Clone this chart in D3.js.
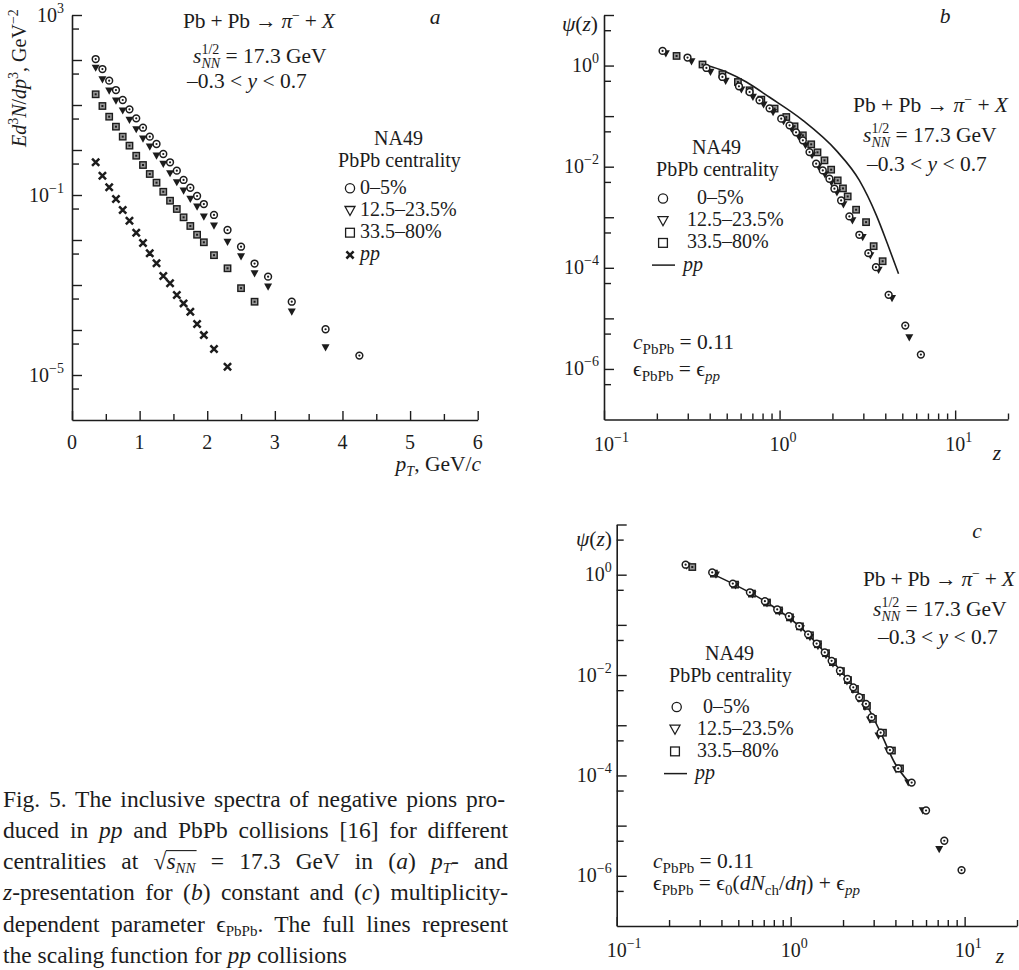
<!DOCTYPE html>
<html><head><meta charset="utf-8">
<script src="https://cdn.jsdelivr.net/npm/d3@7"></script>
<style>
body{margin:0;background:#fff}
svg{display:block}
text{font-family:"Liberation Serif","Times New Roman",serif;fill:#1c1c1c}
</style>
</head><body>
<svg id="fig" width="1019" height="970"></svg>
<script>
// ---------------- (a) invariant spectra vs pT ----------------
const ptPbPb = [0.35,0.45,0.55,0.65,0.75,0.85,0.95,1.05,1.15,1.25,1.35,1.45,1.55,1.65,1.75,1.85,1.95,2.1,2.3,2.5,2.7,2.9,3.25,3.75,4.25];
const specCentral = [105,63,34.7,21.5,12.9,8.0,5.06,3.13,1.98,1.36,0.815,0.533,0.347,0.216,0.145,0.095,0.063,0.036,0.0167,0.0071,0.0030,0.00153,4.25e-4,1.04e-4,2.7e-5];
const specMid = [67,37,20.8,12.5,7.5,4.64,2.88,1.78,1.18,0.746,0.489,0.303,0.191,0.125,0.0815,0.055,0.033,0.0208,0.0090,0.0043,0.0018,9.2e-4,2.55e-4,4.1e-5];
const specPeriph = [17.3,9.5,5.5,3.3,1.98,1.25,0.746,0.464,0.293,0.188,0.118,0.0747,0.0489,0.0319,0.0205,0.0131,0.0089,0.0046,0.00235,8.5e-4,4.25e-4];
const ptPP = [0.35,0.45,0.55,0.65,0.75,0.85,0.95,1.05,1.15,1.25,1.35,1.45,1.55,1.65,1.75,1.85,1.95,2.1,2.3];
const specPP = [0.533,0.268,0.148,0.0815,0.0464,0.0268,0.0145,0.0086,0.00506,0.00303,0.00158,0.00109,6.0e-4,3.9e-4,2.55e-4,1.36e-4,7.7e-5,3.8e-5,1.53e-5];

// ---------------- (b) z-scaling, constant epsilon ----------------
const zCentralB = [0.2156,0.299,0.383,0.4725,0.587,0.675,0.769,0.877,1.022,1.14,1.241,1.357,1.481,1.616,1.762,1.923,2.053,2.242,2.498,2.848,3.204,3.54,4.18,5.2,6.38];
const psiCentralB = [1.95,1.44,0.896,0.595,0.389,0.300,0.2056,0.1427,0.0892,0.0658,0.0478,0.0332,0.01946,0.01146,0.00845,0.00578,0.00367,0.00215,0.00104,4.5e-4,1.95e-4,1.03e-4,2.92e-5,7.2e-6,1.92e-6];
const zMidB = [0.225,0.315,0.404,0.493,0.606,0.705,0.811,0.918,1.054,1.17,1.282,1.405,1.53,1.666,1.814,1.975,2.122,2.31,2.6,2.974,3.29,3.665,4.37,5.48];
const psiMidB = [1.73,1.2,0.747,0.496,0.335,0.239,0.169,0.119,0.0789,0.0561,0.0398,0.0264,0.01675,0.01014,0.00704,0.00489,0.0031,0.00179,8.6e-4,4.04e-4,1.75e-4,9.1e-5,2.5e-5,4.2e-6];
const zPeriphB = [0.259,0.364,0.4725,0.579,0.675,0.787,0.937,1.092,1.217,1.357,1.514,1.644,1.802,1.967,2.143,2.296,2.443,2.728,3.109,3.434,3.864];
const psiPeriphB = [1.55,1.05,0.673,0.473,0.324,0.212,0.141,0.096,0.0628,0.0417,0.0277,0.0192,0.01333,0.00873,0.00536,0.00372,0.00258,0.00141,8.0e-4,2.68e-4,1.35e-4];
const zPPB = [0.366,0.498,0.647,0.877,1.357,2.1,2.848,3.56,4.11,4.76];
const psiPPB = [1.06,0.747,0.473,0.236,0.0826,0.021,0.00535,1.09e-3,3.03e-4,7.6e-5];

// ---------------- (c) z-scaling, multiplicity-dependent epsilon ----------------
const zCentralC = [0.249,0.354,0.465,0.583,0.711,0.837,0.977,1.12,1.26,1.41,1.57,1.72,1.92,2.12,2.29,2.48,2.71,2.92,3.29,3.72,4.15,4.96,6.0,7.64,9.6];
const psiCentralC = [1.58,1.11,0.664,0.446,0.296,0.203,0.149,0.0946,0.0648,0.0425,0.0282,0.0192,0.0122,0.00834,0.0057,0.00361,0.00267,0.00145,7.1e-4,3.2e-4,1.38e-4,7.2e-5,2.0e-5,5.0e-6,1.3e-6];
const zMidC = [0.252,0.372,0.482,0.603,0.731,0.862,1.004,1.146,1.291,1.435,1.596,1.75,1.92,2.107,2.28,2.469,2.673,2.856,3.196,3.624,4.03,4.74,5.74,7.14];
const psiMidC = [1.51,1.0,0.606,0.402,0.267,0.181,0.1285,0.0853,0.0565,0.0375,0.0249,0.0169,0.011,0.00744,0.00505,0.00335,0.00232,0.00129,6.2e-4,3.13e-4,1.31e-4,7.2e-5,2.0e-5,3.4e-6];
const zPeriphC = [0.272,0.362,0.479,0.599,0.731,0.857,0.991,1.131,1.291,1.435,1.596,1.75,1.945,2.135,2.342,2.535,2.745,2.972,3.393,3.82,4.25];
const psiPeriphC = [1.42,1.05,0.634,0.42,0.279,0.194,0.141,0.0934,0.062,0.0411,0.0273,0.0181,0.012,0.00796,0.00528,0.00351,0.00243,0.00134,7.1e-4,3.13e-4,1.38e-4];
const zPPC = [0.3516,0.464,0.711,1.12,1.574,2.115,2.71,3.29,3.98,4.85];
const psiPPC = [1.05,0.664,0.296,0.0946,0.0282,0.00834,0.00267,7.1e-4,1.73e-4,6.95e-5];

// tick values
const ticksPt = [0,1,2,3,4,5,6];
const ticksPtMinor = [0.5,1.5,2.5,3.5,4.5,5.5];
const expLabelsA = [3,-1,-5];
const expLabelsBC = [0,-2,-4,-6];
const legendLabels = ["0\u20135%","12.5\u201323.5%","33.5\u201380%"];

const ink = "#1c1c1c";
const FS = 21.5;      // annotation text
const FL = 20;        // legend text
const FT = 20;        // tick labels
const ROW = 22.2;     // legend row pitch
const svg = d3.select("#fig");

// ---------- text helper: parts = strings or [string, opts] ----------
function rich(t, parts) {
  let shift = 0;
  parts.forEach(p => {
    const [s, o] = typeof p === "string" ? [p, {}] : [p[0], p[1] || {}];
    const ts = t.append("tspan").text(s);
    const target = o.sup ? (o.up || -8) : o.sub ? (o.down || 5) : 0;
    if (target !== shift) { ts.attr("dy", target - shift); shift = target; }
    if (o.i) ts.attr("font-style", "italic");
    if (o.sup || o.sub) ts.attr("font-size", o.fs || 14);
    if (o.dx) ts.attr("dx", o.dx);
  });
  return t;
}
function label(x, y, parts, opts = {}) {
  const t = svg.append("text").attr("x", x).attr("y", y)
    .attr("font-size", opts.fs || FS)
    .attr("text-anchor", opts.anchor || "start");
  if (opts.italic) t.attr("font-style", "italic");
  rich(t, parts);
  if (opts.len) t.attr("textLength", opts.len).attr("lengthAdjust", "spacing");
  return t;
}

// ---------- axes ----------
function styleAxis(g) {
  g.selectAll("path.domain").attr("stroke", ink).attr("stroke-width", 1.6);
  g.selectAll(".tick line").attr("stroke", ink).attr("stroke-width", 1.4);
  g.selectAll(".tick text").remove();
}
function decadeTicks(lo, hi) {
  const maj = [], fives = [];
  for (let e = lo; e <= hi; e++) { maj.push(Math.pow(10, e)); if (e < hi) fives.push(5 * Math.pow(10, e)); }
  return {maj, fives};
}
const expText = e => (e < 0 ? "\u2212" + (-e) : String(e));
function logYAxis(x0, y, lo, hi, labelled, gap) {
  const {maj, fives} = decadeTicks(lo, hi);
  const g1 = svg.append("g").attr("transform", `translate(${x0},0)`)
    .call(d3.axisLeft(y).tickValues(maj.filter(v => v > y.domain()[0])).tickSize(-10).tickSizeOuter(0).tickFormat(""));
  styleAxis(g1);
  const g2 = svg.append("g").attr("transform", `translate(${x0},0)`)
    .call(d3.axisLeft(y).tickValues(fives).tickSize(-7).tickSizeOuter(0).tickFormat(""));
  styleAxis(g2); g2.select("path.domain").remove();
  labelled.forEach(e => {
    label(x0 - gap, y(Math.pow(10, e)) + 6.5, ["10", [expText(e), {sup: 1, up: -9, fs: 14}]], {anchor: "end", fs: FT});
  });
}
function logXAxis(y0, x, xmax) {
  const maj = [0.1, 1, 10], minor = [];
  [0.1, 1, 10].forEach(d => { for (let k = 2; k <= 9; k++) if (k * d <= xmax) minor.push(k * d); });
  const g1 = svg.append("g").attr("transform", `translate(0,${y0})`)
    .call(d3.axisBottom(x).tickValues(maj).tickSize(-9).tickSizeOuter(0).tickFormat(""));
  styleAxis(g1);
  const g2 = svg.append("g").attr("transform", `translate(0,${y0})`)
    .call(d3.axisBottom(x).tickValues(minor).tickSize(-6).tickSizeOuter(0).tickFormat(""));
  styleAxis(g2); g2.select("path.domain").remove();
  [-1, 0, 1].forEach(e => {
    label(x(Math.pow(10, e)) - 10, y0 + 31, ["10", [expText(e), {sup: 1, up: -9, fs: 14}]], {fs: FT});
  });
}

// ---------- markers ----------
function markCircle(g, pts) {
  const s = g.selectAll(null).data(pts).join("g").attr("transform", d => `translate(${d[0]},${d[1]})`);
  s.append("circle").attr("r", 3.4).attr("fill", "#fff").attr("stroke", ink).attr("stroke-width", 1.5);
  s.append("circle").attr("r", 1.1).attr("fill", ink);
}
function markTri(g, pts) {
  g.selectAll(null).data(pts).join("path")
    .attr("transform", d => `translate(${d[0]},${d[1]})`)
    .attr("d", "M-4,-3.2L4,-3.2L0,4Z").attr("fill", ink);
}
function markSquare(g, pts) {
  const s = g.selectAll(null).data(pts).join("g").attr("transform", d => `translate(${d[0]},${d[1]})`);
  s.append("rect").attr("x", -3.2).attr("y", -3.2).attr("width", 6.4).attr("height", 6.4)
    .attr("fill", "#9a9a9a").attr("stroke", ink).attr("stroke-width", 1.4);
  s.append("rect").attr("x", -1).attr("y", -1).attr("width", 2).attr("height", 2).attr("fill", ink);
}
function markCross(g, pts) {
  g.selectAll(null).data(pts).join("path")
    .attr("transform", d => `translate(${d[0]},${d[1]})`)
    .attr("d", "M-3.6,-3.6L3.6,3.6M3.6,-3.6L-3.6,3.6")
    .attr("stroke", ink).attr("stroke-width", 2.5).attr("fill", "none");
}
const zip = (xs, ys, fx, fy) => xs.map((v, i) => [fx(v), fy(ys[i])]);

// ---------- legend ----------
function legendSymbol(kind, cx, cy) {
  if (kind === "c") svg.append("circle").attr("cx", cx).attr("cy", cy).attr("r", 4.6).attr("fill", "none").attr("stroke", ink).attr("stroke-width", 1.3);
  if (kind === "t") svg.append("path").attr("d", `M${cx - 5},${cy - 4}L${cx + 5},${cy - 4}L${cx},${cy + 5}Z`).attr("fill", "none").attr("stroke", ink).attr("stroke-width", 1.3);
  if (kind === "s") svg.append("rect").attr("x", cx - 4.4).attr("y", cy - 4.4).attr("width", 8.8).attr("height", 8.8).attr("fill", "none").attr("stroke", ink).attr("stroke-width", 1.3);
  if (kind === "x") svg.append("path").attr("d", `M${cx - 3.6},${cy - 3.6}L${cx + 3.6},${cy + 3.6}M${cx + 3.6},${cy - 3.6}L${cx - 3.6},${cy + 3.6}`).attr("stroke", ink).attr("stroke-width", 2.5);
  if (kind === "l") svg.append("line").attr("x1", cx - 11.5).attr("x2", cx + 11.5).attr("y1", cy).attr("y2", cy).attr("stroke", ink).attr("stroke-width", 1.5);
}
// rows: [symbolKind, symbolX, textX, parts]; first baseline y0
function legendBlock(cxHead, yHead, rows, y0) {
  label(cxHead, yHead - 22.2, ["NA49"], {anchor: "middle", fs: FL});
  label(cxHead + 1, yHead, ["PbPb centrality"], {anchor: "middle", fs: FL});
  rows.forEach((r, i) => {
    const yb = y0 + i * ROW;
    legendSymbol(r[0], r[1], yb - 5.5);
    label(r[2], yb, r[3], {fs: FL});
  });
}

const reaction = ["Pb + Pb \u2192 ", ["\u03c0", {i: 1}], ["\u2212", {sup: 1, up: -8}], [" + ", {}], ["X", {i: 1}]];
const energy = [["s", {i: 1}], ["1/2", {sup: 1, up: -9}], ["NN", {sub: 1, i: 1, down: 5, dx: -17.8}], [" = 17.3 GeV", {}]];
const rapidity = ["\u20130.3 < ", ["y", {i: 1}], " < 0.7"];
const ppItalic = [["pp", {i: 1}]];

// ================= panel (a) =================
const xA = d3.scaleLinear().domain([0, 6]).range([72, 477.7]);
const yA = d3.scaleLog().domain([1e-6, 1e3]).range([420, 15]);
logYAxis(72, yA, -6, 3, expLabelsA, 8);
{
  const g1 = svg.append("g").attr("transform", "translate(0,420)")
    .call(d3.axisBottom(xA).tickValues(ticksPt).tickSize(-9).tickSizeOuter(0).tickFormat(""));
  styleAxis(g1);
  const g2 = svg.append("g").attr("transform", "translate(0,420)")
    .call(d3.axisBottom(xA).tickValues(ticksPtMinor).tickSize(-6).tickSizeOuter(0).tickFormat(""));
  styleAxis(g2); g2.select("path.domain").remove();
  ticksPt.forEach(v => label(xA(v), 449, [String(v)], {anchor: "middle", fs: FT}));
}
{
  const g = svg.append("g");
  markCross(g, zip(ptPP, specPP, xA, yA));
  markSquare(g, zip(ptPbPb.slice(0, specPeriph.length), specPeriph, xA, yA));
  markTri(g, zip(ptPbPb.slice(0, specMid.length), specMid, xA, yA));
  markCircle(g, zip(ptPbPb, specCentral, xA, yA));
}
label(481, 471, [["p", {i: 1}], ["T", {sub: 1, i: 1}], [", GeV/", {}], ["c", {i: 1}]], {anchor: "end"});
svg.append("text").attr("transform", "translate(26,147) rotate(-90)").attr("font-size", 20)
  .call(t => rich(t, [["Ed", {i: 1}], ["3", {sup: 1, up: -8}], ["N", {i: 1}], "/", ["dp", {i: 1}], ["3", {sup: 1, up: -8}], [", GeV", {}], ["\u22122", {sup: 1, up: -8}]]));
label(183, 28, reaction, {len: 152});
label(193, 63, energy);
label(187, 88, rapidity);
label(435, 24, ["a"], {italic: true, anchor: "middle"});
legendBlock(398.5, 167, [
  ["c", 350, 360, [legendLabels[0]]],
  ["t", 350, 360, [legendLabels[1]]],
  ["s", 350, 360, [legendLabels[2]]],
  ["x", 350, 360, ppItalic]
], 193.8);

// ================= panels (b), (c) =================
function zPanel(p) {
  const x = d3.scaleLog().domain([0.1, 20]).range([p.x0, p.x1]);
  const y = d3.scaleLog().domain([1e-7, 10]).range([p.y0, p.y1]);
  logYAxis(p.x0, y, -7, 1, expLabelsBC, 5);
  logXAxis(p.y0, x, 20);
  const g = svg.append("g");
  g.append("path").datum(p.line[0].map((v, i) => [v, p.line[1][i]]))
    .attr("d", d3.line().x(d => x(d[0])).y(d => y(d[1])).curve(d3.curveMonotoneX))
    .attr("fill", "none").attr("stroke", ink).attr("stroke-width", 1.6);
  markSquare(g, zip(p.sq[0], p.sq[1], x, y));
  markTri(g, zip(p.tri[0], p.tri[1], x, y));
  markCircle(g, zip(p.circ[0], p.circ[1], x, y));
  return {x, y};
}
const psiLabel = [["\u03c8", {i: 1}], "(", ["z", {i: 1}], ")"];

// (b)
zPanel({x0: 604, x1: 1008, y0: 419.5, y1: 15,
  circ: [zCentralB, psiCentralB], tri: [zMidB, psiMidB], sq: [zPeriphB, psiPeriphB], line: [zPPB, psiPPB]});
label(598, 31, psiLabel, {anchor: "end"});
label(997, 460, ["z"], {italic: true, anchor: "middle"});
label(945, 23, ["b"], {italic: true, anchor: "middle"});
label(853, 112, reaction, {len: 155});
label(863, 142, energy);
label(867, 171, rapidity);
legendBlock(716.5, 176, [
  ["c", 663, 697, [legendLabels[0]]],
  ["t", 663, 687, [legendLabels[1]]],
  ["s", 663, 687, [legendLabels[2]]],
  ["l", 663.5, 683, ppItalic]
], 204);
label(633, 349, [["c", {i: 1}], ["PbPb", {sub: 1, fs: 15, down: 5}], [" = 0.11", {}]]);
label(633, 376, ["\u03f5", ["PbPb", {sub: 1, fs: 15, down: 5}], [" = \u03f5", {}], ["pp", {sub: 1, i: 1, fs: 15, down: 5}]]);

// (c)
zPanel({x0: 616.7, x1: 1017, y0: 926, y1: 524.5,
  circ: [zCentralC, psiCentralC], tri: [zMidC, psiMidC], sq: [zPeriphC, psiPeriphC], line: [zPPC, psiPPC]});
label(612, 546, psiLabel, {anchor: "end"});
label(1000, 963, ["z"], {italic: true, anchor: "middle"});
label(977, 538, ["c"], {italic: true, anchor: "middle"});
label(863, 586, reaction, {len: 152});
label(873, 616, energy);
label(878, 644, rapidity);
legendBlock(729.5, 682, [
  ["c", 676.7, 703, [legendLabels[0]]],
  ["t", 675, 697, [legendLabels[1]]],
  ["s", 675, 697, [legendLabels[2]]],
  ["l", 675.5, 695, ppItalic]
], 712.5);
label(653, 868, [["c", {i: 1}], ["PbPb", {sub: 1, fs: 15, down: 5}], [" = 0.11", {}]]);
label(653, 890, ["\u03f5", ["PbPb", {sub: 1, fs: 15, down: 5}], [" = \u03f5", {}], ["0", {sub: 1, fs: 15, down: 5}], ["(", {}], ["dN", {i: 1}], ["ch", {sub: 1, fs: 15, down: 5}], ["/", {}], ["d\u03b7", {i: 1}], [") + \u03f5", {}], ["pp", {sub: 1, i: 1, fs: 15, down: 5}]]);

// ================= caption =================
const capLines = [
  ["Fig. 5.  The inclusive spectra of negative pions pro-"],
  ["duced in ", ["pp", {i: 1}], " and PbPb collisions [16] for different"],
  ["centralities at ", "\u221a", ["s", {i: 1}], ["NN", {sub: 1, i: 1, fs: 15, down: 4}], [" = 17.3 GeV in (", {}], ["a", {i: 1}], ") ", ["p", {i: 1}], ["T", {sub: 1, i: 1, fs: 15, down: 4}], ["- and", {}]],
  [["z", {i: 1}], "-presentation for (", ["b", {i: 1}], ") constant and (", ["c", {i: 1}], ") multiplicity-"],
  ["dependent parameter \u03f5", ["PbPb", {sub: 1, fs: 15, down: 4}], [". The full lines represent", {}]],
  ["the scaling function for ", ["pp", {i: 1}], " collisions"]
];
const capX = 3, capW = 505, capY0 = 806.5, capDY = 31.3;
capLines.forEach((parts, li) => {
  const t = label(capX, capY0 + li * capDY, parts, {fs: 23.5});
  if (li < capLines.length - 1) {
    const node = t.node();
    const natural = node.getComputedTextLength();
    const spaces = (node.textContent.match(/ /g) || []).length;
    t.attr("word-spacing", ((capW - natural) / spaces).toFixed(2));
  }
  if (li === 2) {
    const node = t.node();
    const k = node.textContent.indexOf("\u221a");
    const r = node.getExtentOfChar(k);
    const e = node.getExtentOfChar(k + 3);
    svg.append("line").attr("x1", r.x + r.width - 0.5).attr("x2", e.x + e.width + 1)
      .attr("y1", r.y + 2.5).attr("y2", r.y + 2.5).attr("stroke", ink).attr("stroke-width", 1.1);
  }
});
</script>
</body></html>
